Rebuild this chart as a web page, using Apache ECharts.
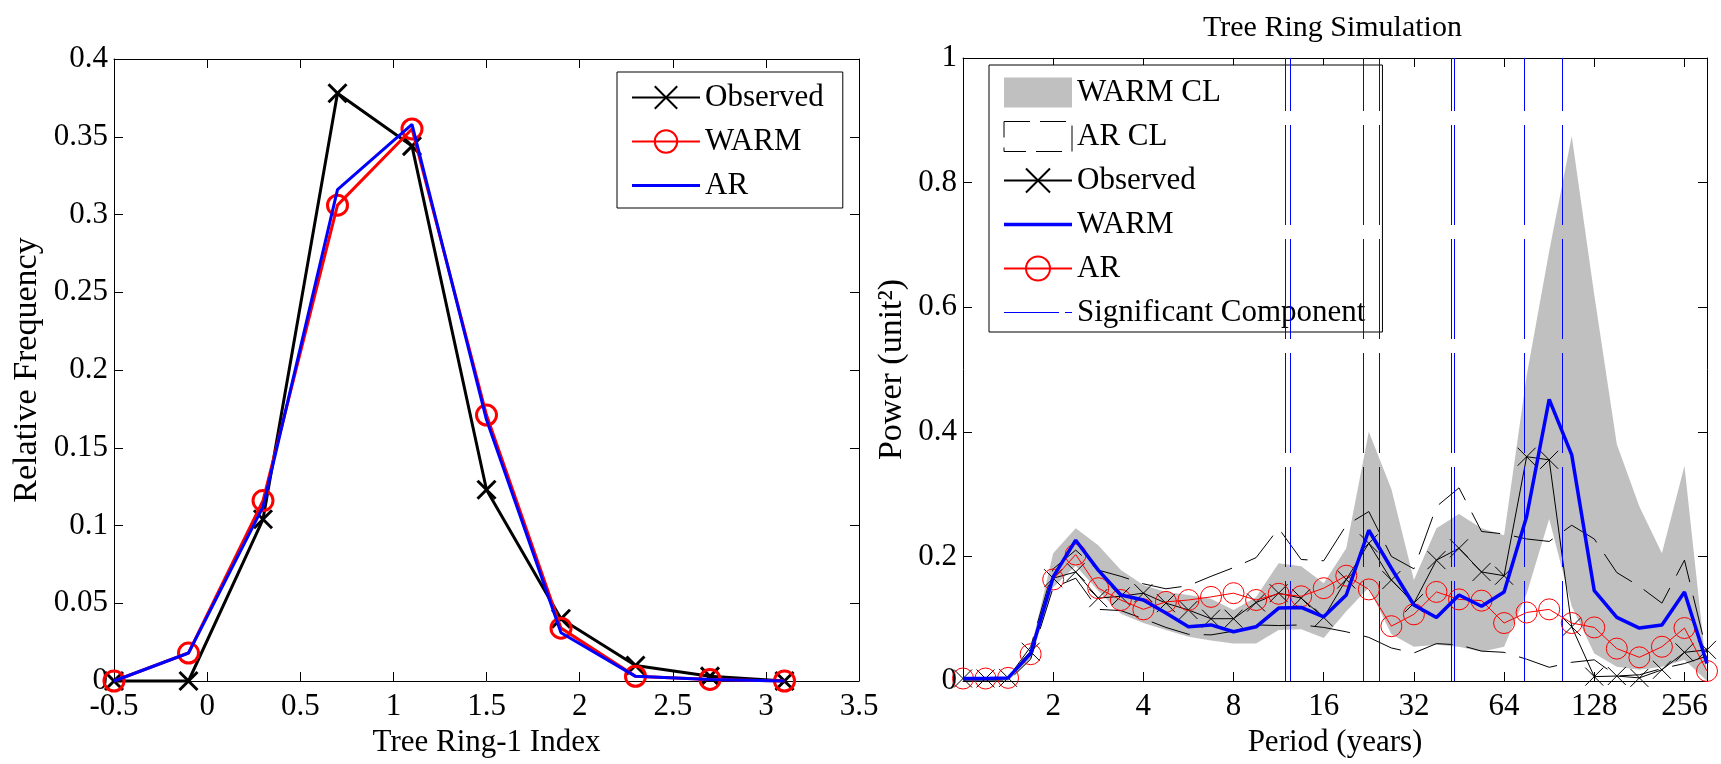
<!DOCTYPE html>
<html>
<head>
<meta charset="utf-8">
<script src="https://cdn.jsdelivr.net/npm/echarts@6/dist/echarts.min.js"></script>
<style>
html,body{margin:0;padding:0;background:#fff;}
#chart{width:1721px;height:764px;}
</style>
</head>
<body>
<div id="chart"></div>
<script>
// ---------- Left panel data ----------
const treeRingIndex = [-0.5, -0.1, 0.3, 0.7, 1.1, 1.5, 1.9, 2.3, 2.7, 3.1];
const freqObserved  = [0, 0, 0.104, 0.378, 0.344, 0.123, 0.040, 0.010, 0.003, 0];
const freqWarm      = [0, 0.018, 0.116, 0.306, 0.355, 0.171, 0.034, 0.003, 0.001, 0];
const freqAR        = [0, 0.018, 0.112, 0.316, 0.358, 0.168, 0.031, 0.003, 0.001, 0];

// ---------- Right panel data ----------
const periods = [1, 1.189, 1.414, 1.682, 2, 2.378, 2.828, 3.364, 4, 4.757, 5.657, 6.727,
  8, 9.514, 11.314, 13.454, 16, 19.027, 22.627, 26.909, 32, 38.055, 45.255, 53.817,
  64, 76.109, 90.510, 107.635, 128, 152.219, 181.019, 215.269, 256, 304.437];
const powerWarm = [0.004, 0.004, 0.005, 0.044, 0.167, 0.226, 0.178, 0.138, 0.130, 0.109, 0.087, 0.090,
  0.079, 0.087, 0.117, 0.118, 0.103, 0.138, 0.242, 0.181, 0.122, 0.102, 0.138, 0.120,
  0.143, 0.264, 0.452, 0.363, 0.145, 0.102, 0.085, 0.090, 0.143, 0.028];
const powerAR = [0.004, 0.004, 0.005, 0.043, 0.163, 0.203, 0.149, 0.130, 0.115, 0.127, 0.130, 0.135,
  0.141, 0.130, 0.140, 0.136, 0.149, 0.169, 0.147, 0.088, 0.107, 0.143, 0.131, 0.129,
  0.093, 0.110, 0.115, 0.093, 0.086, 0.052, 0.038, 0.055, 0.085, 0.016];
const powerObserved = [0.004, 0.004, 0.005, 0.047, 0.165, 0.175, 0.133, 0.136, 0.141, 0.125, 0.114, 0.100,
  0.100, 0.126, 0.141, 0.133, 0.102, 0.163, 0.221, 0.162, 0.125, 0.194, 0.213, 0.175,
  0.169, 0.360, 0.355, 0.087, 0.007, 0.008, 0.005, 0.018, 0.046, 0.050];
const warmCLLower = [0, 0, 0, 0.035, 0.150, 0.185, 0.145, 0.108, 0.093, 0.082, 0.071, 0.065,
  0.060, 0.060, 0.082, 0.083, 0.069, 0.112, 0.150, 0.075, 0.055, 0.058, 0.055, 0.047,
  0.055, 0.140, 0.260, 0.120, 0.044, 0.023, 0.018, 0.023, 0.034, 0];
const warmCLUpper = [0.006, 0.006, 0.006, 0.050, 0.205, 0.245, 0.218, 0.178, 0.154, 0.143, 0.138, 0.132,
  0.114, 0.135, 0.189, 0.184, 0.157, 0.213, 0.400, 0.308, 0.162, 0.245, 0.268, 0.245,
  0.234, 0.490, 0.690, 0.875, 0.620, 0.380, 0.280, 0.205, 0.345, 0.010];
const arCLUpper = [0.005, 0.005, 0.005, 0.055, 0.180, 0.210, 0.178, 0.168, 0.156, 0.148, 0.153, 0.168,
  0.182, 0.198, 0.245, 0.195, 0.193, 0.250, 0.272, 0.200, 0.180, 0.280, 0.310, 0.240,
  0.236, 0.228, 0.224, 0.250, 0.228, 0.174, 0.152, 0.125, 0.194, 0.045];
const arCLLower = [0, 0, 0, 0.035, 0.150, 0.165, 0.115, 0.113, 0.100, 0.086, 0.075, 0.074,
  0.080, 0.090, 0.089, 0.090, 0.086, 0.079, 0.070, 0.053, 0.045, 0.060, 0.058, 0.048,
  0.046, 0.035, 0.022, 0.030, 0.034, 0.008, 0.010, 0.020, 0.028, 0.040];
const significantPeriods = [11.9, 12.4, 21.6, 24.6, 42.5, 43.5, 74.8, 99.8];
const periodTicks = [2, 4, 8, 16, 32, 64, 128, 256];

// ---------- helpers ----------
const FONT = '"Liberation Serif", "Times New Roman", serif';
const pairs = (xs, ys) => xs.map((x, i) => [x, ys[i]]);
const CROSS = 'path://M0,0L10,10M10,0L0,10';
// legend line icons (the path bounding box includes the whole icon box)
const ICON_THICK_28 = 'path://M0,0M0,12.5L68,12.5L68,15.5L0,15.5ZM68,28';
const ICON_THICK_30 = 'path://M0,0M0,13.2L68,13.2L68,16.8L0,16.8ZM68,30';
const ICON_SIG_30 = 'path://M0,0M0,14.5L55,14.5L55,15.5L0,15.5ZM61,14.5L68,14.5L68,15.5L61,15.5ZM68,30';

const tickLabel = {color: '#000', fontFamily: FONT, fontSize: 31};
const axisLine = {show: true, onZero: false, lineStyle: {color: '#000', width: 1}};
const axisTickIn = {show: true, inside: true, length: 9, lineStyle: {color: '#000', width: 1}};
const xNameStyle = {color: '#000', fontFamily: FONT, fontSize: 31};
const yNameStyle = {color: '#000', fontFamily: FONT, fontSize: 34};

function periodLabel(v) {
  const l = Math.log2(v);
  const r = Math.round(l);
  if (Math.abs(l - r) < 1e-6 && periodTicks.indexOf(Math.pow(2, r)) >= 0) return String(Math.pow(2, r));
  return '';
}

const chart = echarts.init(document.getElementById('chart'), null, {renderer: 'canvas'});

const option = {
  backgroundColor: '#fff',
  animation: false,
  textStyle: {fontFamily: FONT, color: '#000'},
  title: {
    text: 'Tree Ring Simulation',
    left: 1198, top: 8,
    textStyle: {fontFamily: FONT, fontSize: 30, fontWeight: 'normal', color: '#000'}
  },
  grid: [
    {left: 114, top: 59, width: 745, height: 622},
    {left: 963, top: 58, width: 744, height: 623}
  ],
  xAxis: [
    {gridIndex: 0, type: 'value', min: -0.5, max: 3.5, interval: 0.5, position: 'bottom',
     name: 'Tree Ring-1 Index', nameLocation: 'middle', nameGap: 46, nameTextStyle: xNameStyle,
     axisLine: axisLine, axisTick: axisTickIn, splitLine: {show: false},
     axisLabel: Object.assign({margin: 10}, tickLabel)},
    {gridIndex: 0, type: 'value', min: -0.5, max: 3.5, interval: 0.5, position: 'top',
     axisLine: axisLine, axisTick: axisTickIn, splitLine: {show: false}, axisLabel: {show: false}},
    {gridIndex: 1, type: 'log', logBase: 2, min: periods[0], max: periods[periods.length - 1], position: 'bottom',
     name: 'Period (years)', nameLocation: 'middle', nameGap: 46, nameTextStyle: xNameStyle,
     axisLine: axisLine, axisTick: axisTickIn, splitLine: {show: false}, minorTick: {show: false},
     axisLabel: Object.assign({margin: 10, formatter: periodLabel}, tickLabel)},
    {gridIndex: 1, type: 'log', logBase: 2, min: periods[0], max: periods[periods.length - 1], position: 'top',
     axisLine: axisLine, axisTick: axisTickIn, splitLine: {show: false}, axisLabel: {show: false}}
  ],
  yAxis: [
    {gridIndex: 0, type: 'value', min: 0, max: 0.4, interval: 0.05, position: 'left',
     name: 'Relative Frequency', nameLocation: 'middle', nameGap: 70, nameTextStyle: yNameStyle,
     axisLine: axisLine, axisTick: axisTickIn, splitLine: {show: false},
     axisLabel: Object.assign({margin: 6}, tickLabel)},
    {gridIndex: 0, type: 'value', min: 0, max: 0.4, interval: 0.05, position: 'right',
     axisLine: axisLine, axisTick: axisTickIn, splitLine: {show: false}, axisLabel: {show: false}},
    {gridIndex: 1, type: 'value', min: 0, max: 1, interval: 0.2, position: 'left',
     name: 'Power (unit²)', nameLocation: 'middle', nameGap: 54, nameTextStyle: yNameStyle,
     axisLine: axisLine, axisTick: axisTickIn, splitLine: {show: false},
     axisLabel: Object.assign({margin: 6}, tickLabel)},
    {gridIndex: 1, type: 'value', min: 0, max: 1, interval: 0.2, position: 'right',
     axisLine: axisLine, axisTick: axisTickIn, splitLine: {show: false}, axisLabel: {show: false}}
  ],
  legend: [
    {
      orient: 'vertical', left: 617, top: 72,
      padding: [10, 19, 7, 14], itemGap: 13, itemWidth: 68, itemHeight: 28,
      backgroundColor: '#fff', borderColor: '#000', borderWidth: 1, borderRadius: 0,
      textStyle: {fontFamily: FONT, fontSize: 31, color: '#000', lineHeight: 31},
      data: [
        {name: 'Observed'},
        {name: 'WARM'},
        {name: 'AR', icon: ICON_THICK_28, itemStyle: {color: '#00f', borderWidth: 0}}
      ]
    },
    {
      orient: 'vertical', left: 989, top: 65,
      padding: [12, 17, 4, 14], itemGap: 13, itemWidth: 68, itemHeight: 30,
      backgroundColor: '#fff', borderColor: '#000', borderWidth: 1, borderRadius: 0,
      textStyle: {fontFamily: FONT, fontSize: 31, color: '#000', lineHeight: 31},
      data: [
        {name: 'WARM CL', icon: 'rect', itemStyle: {color: '#c0c0c0', borderWidth: 0}},
        {name: 'AR CL', icon: 'rect', itemStyle: {color: 'rgba(0,0,0,0)', borderColor: '#000', borderWidth: 1, borderType: [26, 10]}},
        {name: 'Observed '},
        {name: 'WARM ', icon: ICON_THICK_30, itemStyle: {color: '#00f', borderWidth: 0}},
        {name: 'AR '},
        {name: 'Significant Component', icon: ICON_SIG_30, itemStyle: {color: '#00f', borderWidth: 0}}
      ]
    }
  ],
  series: [
    // ----- left panel -----
    {name: 'Observed', type: 'line', xAxisIndex: 0, yAxisIndex: 0, data: pairs(treeRingIndex, freqObserved),
     clip: false, z: 3, color: '#000',
     lineStyle: {color: '#000', width: 3},
     symbol: CROSS, symbolSize: 18, itemStyle: {color: '#000', borderColor: '#000', borderWidth: 3}},
    {name: 'WARM', type: 'line', xAxisIndex: 0, yAxisIndex: 0, data: pairs(treeRingIndex, freqWarm),
     clip: false, z: 4, color: '#f00',
     lineStyle: {color: '#f00', width: 3},
     symbol: 'circle', symbolSize: 20, itemStyle: {color: 'rgba(0,0,0,0)', borderColor: '#f00', borderWidth: 3}},
    {name: 'AR', type: 'line', xAxisIndex: 0, yAxisIndex: 0, data: pairs(treeRingIndex, freqAR),
     clip: false, z: 5, color: '#00f', showSymbol: false, symbol: 'none',
     lineStyle: {color: '#00f', width: 3}},

    // ----- right panel -----
    {name: 'WARM CL', type: 'custom', xAxisIndex: 2, yAxisIndex: 2, coordinateSystem: 'cartesian2d',
     data: pairs(periods, warmCLUpper), z: 1, silent: true,
     itemStyle: {color: '#c0c0c0'},
     renderItem: function (params, api) {
       if (params.dataIndex !== 0) return null;
       const pts = [];
       for (let i = 0; i < periods.length; i++) pts.push(api.coord([periods[i], warmCLUpper[i]]));
       for (let i = periods.length - 1; i >= 0; i--) pts.push(api.coord([periods[i], warmCLLower[i]]));
       return {type: 'polygon', shape: {points: pts}, style: {fill: '#c0c0c0', stroke: null}};
     }},
    {name: 'Significant Component', type: 'line', xAxisIndex: 2, yAxisIndex: 2, data: [],
     color: '#00f', symbol: 'none', lineStyle: {color: '#00f', width: 1, type: [100, 14]}, z: 2,
     markLine: {silent: true, symbol: 'none', animation: false,
       label: {show: false},
       lineStyle: {color: '#00f', width: 1, type: [100, 14]},
       data: significantPeriods.map(p => ({xAxis: p}))}},
    {name: 'AR CL', type: 'line', xAxisIndex: 2, yAxisIndex: 2, data: pairs(periods, arCLUpper),
     symbol: 'none', color: '#000', lineStyle: {color: '#000', width: 1, type: [40, 14]}, z: 3},
    {name: 'AR CL', type: 'line', xAxisIndex: 2, yAxisIndex: 2, data: pairs(periods, arCLLower),
     symbol: 'none', color: '#000', lineStyle: {color: '#000', width: 1, type: [40, 14]}, z: 3},
    {name: 'Observed ', type: 'line', xAxisIndex: 2, yAxisIndex: 2, data: pairs(periods, powerObserved),
     clip: false, z: 4, color: '#000', lineStyle: {color: '#000', width: 1},
     symbol: CROSS, symbolSize: 18, itemStyle: {color: '#000', borderColor: '#000', borderWidth: 1}},
    {name: 'AR ', type: 'line', xAxisIndex: 2, yAxisIndex: 2, data: pairs(periods, powerAR),
     clip: false, z: 5, color: '#f00', lineStyle: {color: '#f00', width: 1},
     symbol: 'circle', symbolSize: 21, itemStyle: {color: 'rgba(0,0,0,0)', borderColor: '#f00', borderWidth: 1}},
    {name: 'WARM ', type: 'line', xAxisIndex: 2, yAxisIndex: 2, data: pairs(periods, powerWarm),
     clip: false, z: 6, color: '#00f', symbol: 'none', lineStyle: {color: '#00f', width: 3.5}}
  ]
};
chart.setOption(option);
</script>
</body>
</html>
